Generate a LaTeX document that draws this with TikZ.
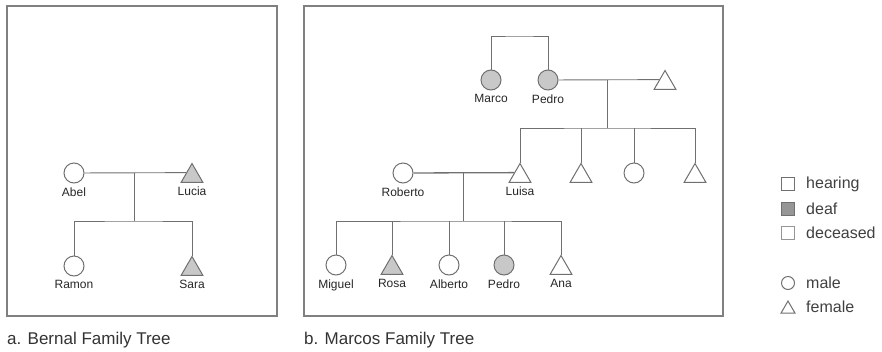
\documentclass[tikz,border=0pt]{standalone}
\RequirePackage{fontspec}
\RequirePackage{tikz}
\usetikzlibrary{shapes.geometric,positioning}
\setmainfont{Liberation Sans}

\definecolor{linegray}{HTML}{707070}
\definecolor{framegray}{HTML}{808080}
\definecolor{deafgray}{HTML}{C8C8C8}
\definecolor{keygray}{HTML}{969696}

\tikzset{
    male/.style={circle,draw=linegray,line width=1pt,fill=white,minimum size=20pt,inner sep=0pt},
    female/.style={regular polygon,regular polygon sides=3,draw=linegray,line width=1pt,fill=white,minimum size=25pt,inner sep=0pt},
    deaf/.style={fill=deafgray},
    tie/.style={draw=linegray,line width=0.9pt},
    couple/.style={draw=linegray,line width=1.3pt},
    who/.style={font=\fontsize{12}{14}\selectfont,text=black!85,inner sep=1pt},
    caption/.style={font=\fontsize{17}{19}\selectfont,text=black!80,anchor=west,inner sep=0pt},
    keybox/.style={draw=linegray,line width=0.9pt,minimum size=13pt,inner sep=0pt},
    keytext/.style={font=\fontsize{16}{18}\selectfont,text=black!75,anchor=west,inner sep=0pt}
}

\begin{document}
\begin{tikzpicture}[x=1pt,y=-1pt]
                \useasboundingbox (0,0) rectangle (882,351);

                \draw[framegray,line width=1.1pt] (7,6) rectangle (277,316);
                \draw[framegray,line width=1.1pt] (304,6) rectangle (723,316);
                \node[caption] (capa) at (7,340) {a. Bernal Family Tree};
                \node[caption] (capb) at (304,340) {b. Marcos Family Tree};

                \node[male] (abel) at (74,173) {};
                \node[female,deaf] (lucia) at (192,176) {};
                \node[male] (ramon) at (74,266) {};
                \node[female,deaf] (sara) at (192,269) {};
                \node[who,below=3pt of abel] (abeltxt) {Abel};
                \node[who,below=3pt of lucia.corner 2 -| lucia] (luciatxt) {Lucia};
                \node[who,below=3pt of ramon] (ramontxt) {Ramon};
                \node[who,below=3pt of sara.corner 2 -| sara] (saratxt) {Sara};

                \coordinate (ab) at (134,173);
                \coordinate (abkids) at (134,221);
                \draw[tie] (abel) -- (lucia.side 1);
                \draw[tie] (ab) -- (abkids);
                \draw[tie] (ramon.north) |- (abkids) -| (sara.corner 1);

                \node[male,deaf] (marco) at (491,80) {};
                \node[male,deaf] (pedro) at (548,80) {};
                \node[female] (wife) at (665,83) {};
                \node[who,below=3pt of marco] (marcotxt) {Marco};
                \node[who,below=3pt of pedro] (pedrotxt) {Pedro};

                \coordinate (bros) at (519,36);
                \coordinate (pw) at (607,80);
                \coordinate (pwkids) at (607,128);
                \draw[tie] (marco.north) |- (bros) -| (pedro.north);
                \draw[tie] (pedro) -- (wife.side 1);
                \draw[tie] (pw) -- (pwkids);

                \node[female] (luisa) at (520,176) {};
                \node[female] (dtwo) at (581,176) {};
                \node[male] (sthree) at (634,173) {};
                \node[female] (dfour) at (695,176) {};
                \node[male] (roberto) at (403,173) {};
                \node[who,below=3pt of luisa.corner 2 -| luisa] (luisatxt) {Luisa};
                \node[who,below=3pt of roberto] (robertotxt) {Roberto};

                \draw[tie] (luisa.corner 1) |- (pwkids) -| (dfour.corner 1);
                \draw[tie] (dtwo.corner 1) -- (dtwo.corner 1 |- pwkids);
                \draw[tie] (sthree.north) -- (sthree.north |- pwkids);

                \coordinate (rl) at (463,173);
                \coordinate (rlkids) at (463,221);
                \draw[couple] (roberto) -- (luisa.side 1);
                \draw[tie] (rl) -- (rlkids);

                \node[male] (miguel) at (336,265) {};
                \node[female,deaf] (rosa) at (392,268) {};
                \node[male] (alberto) at (449,265) {};
                \node[male,deaf] (pedrojr) at (504,265) {};
                \node[female] (ana) at (561,268) {};
                \node[who,below=3pt of miguel] (migueltxt) {Miguel};
                \node[who,below=3pt of rosa.corner 2 -| rosa] (rosatxt) {Rosa};
                \node[who,below=3pt of alberto] (albertotxt) {Alberto};
                \node[who,below=3pt of pedrojr] (pedrojrtxt) {Pedro};
                \node[who,below=3pt of ana.corner 2 -| ana] (anatxt) {Ana};

                \draw[tie] (miguel.north) |- (rlkids) -| (ana.corner 1);
                \draw[tie] (rosa.corner 1) -- (rosa.corner 1 |- rlkids);
                \draw[tie] (alberto.north) -- (alberto.north |- rlkids);
                \draw[tie] (pedrojr.north) -- (pedrojr.north |- rlkids);

                \node[keybox,fill=white] (khear) at (788,184) {};
                \node[keybox,fill=keygray] (kdeaf) at (788,209) {};
                \node[keybox,draw=keygray,fill=white] (kdead) at (788,233) {};
                \node[male,minimum size=13pt] (kmale) at (788,283) {};
                \node[female,minimum size=16pt] (kfemale) at (788,309) {};
                \node[keytext] (khtxt) at (806,184) {hearing};
                \node[keytext] (kdtxt) at (806,209) {deaf};
                \node[keytext] (kxtxt) at (806,233) {deceased};
                \node[keytext] (kmtxt) at (806,283) {male};
                \node[keytext] (kftxt) at (806,307) {female};
            \end{tikzpicture}
\end{document}
